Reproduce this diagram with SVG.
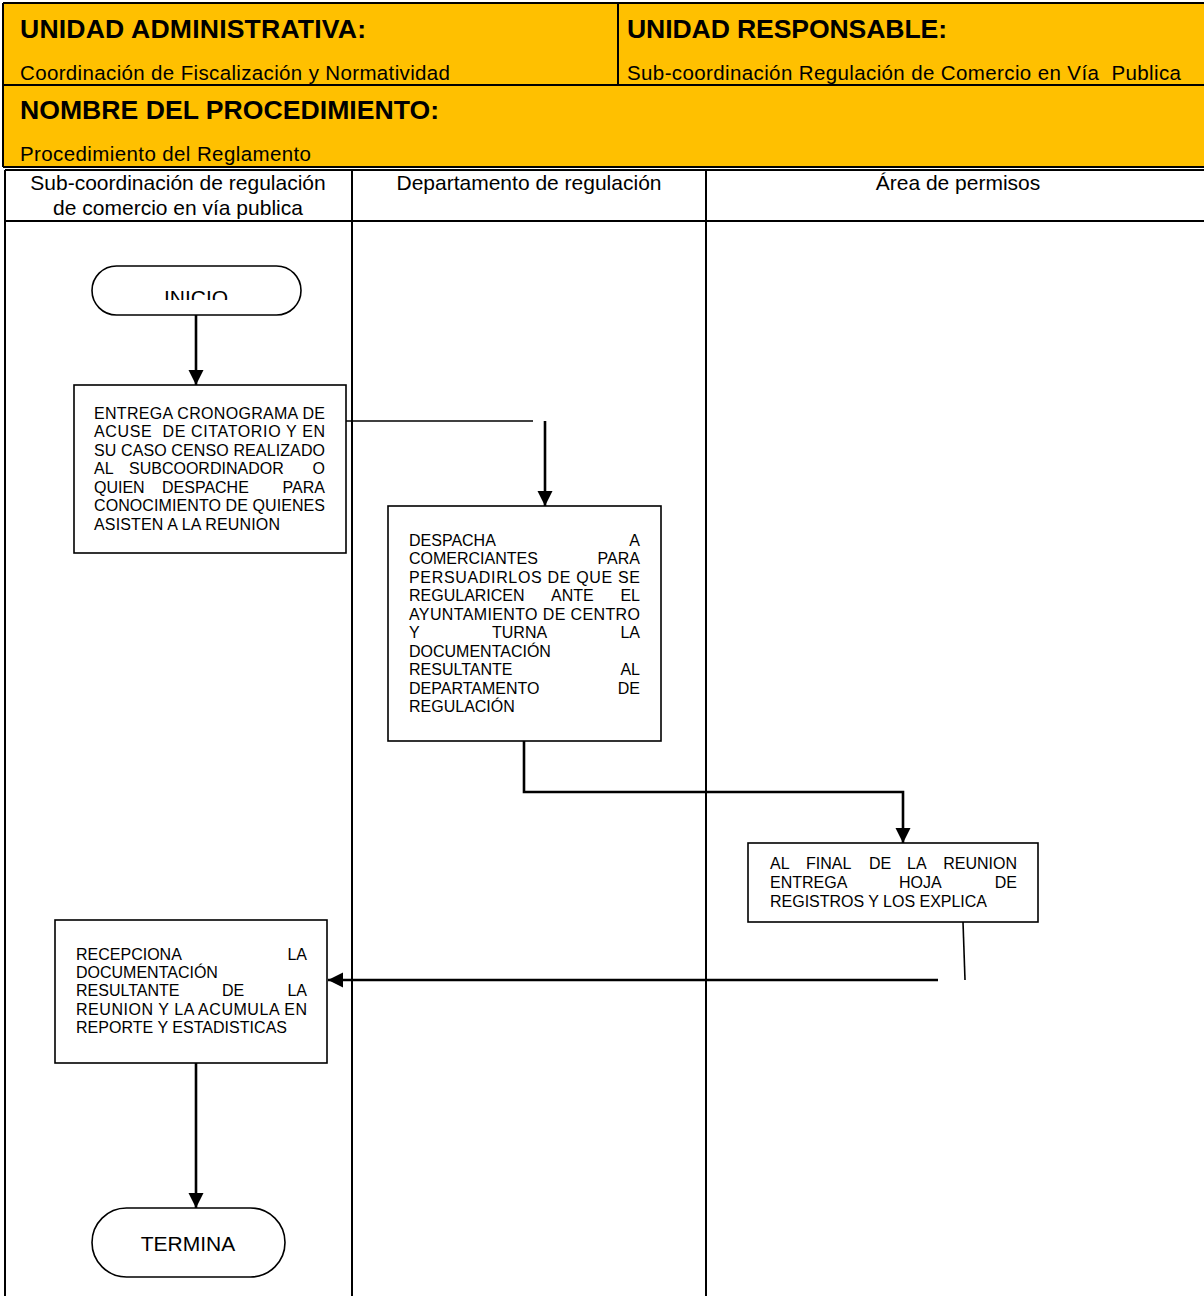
<svg xmlns="http://www.w3.org/2000/svg" width="1204" height="1296" viewBox="0 0 1204 1296">
<style>
.hdr{font-family:"Liberation Sans",Arial,sans-serif;font-weight:bold;font-size:26.6px;fill:#000}
.sub{font-family:"Liberation Sans",Arial,sans-serif;font-size:20.5px;fill:#000}
.lane{font-family:"Liberation Sans",Arial,sans-serif;font-size:21px;fill:#000;text-anchor:middle}
.t{font-family:"Liberation Sans",Arial,sans-serif;font-size:16px;fill:#000;white-space:pre}
.e{text-anchor:end}
.term{font-family:"Liberation Sans",Arial,sans-serif;font-size:21px;fill:#000;text-anchor:middle}
.box{fill:#fff;stroke:#000;stroke-width:1.6}
.grid{stroke:#000;stroke-width:2;fill:none}
.conn{stroke:#000;stroke-width:2.6;fill:none}
.thin{stroke:#000;stroke-width:1.6;fill:none}
</style>
<defs>
<marker id="arr" viewBox="0 0 10 10" refX="10" refY="5" markerUnits="userSpaceOnUse" markerWidth="15" markerHeight="16" orient="auto">
<path d="M0,0 L10,5 L0,10 z" fill="#000"/>
</marker>
<clipPath id="clipInicio"><rect x="90" y="260" width="220" height="40"/></clipPath>
</defs>
<rect width="1204" height="1296" fill="#fff"/>
<g id="header">
<rect x="3" y="3" width="1203" height="164" fill="#FFC000"/>
<path class="grid" d="M3,3 H1206 M3,3 V167 M3,85 H1206 M618,3 V85 M3,167 H1206"/>
<text class="hdr" x="20" y="38" textLength="346">UNIDAD ADMINISTRATIVA:</text>
<text class="sub" x="20" y="80" textLength="430">Coordinación de Fiscalización y Normatividad</text>
<text class="hdr" x="627" y="38" textLength="320">UNIDAD RESPONSABLE:</text>
<text class="sub" x="627" y="80" textLength="554" style="white-space:pre">Sub-coordinación Regulación de Comercio en Vía  Publica</text>
<text class="hdr" x="20" y="119" textLength="419">NOMBRE DEL PROCEDIMIENTO:</text>
<text class="sub" x="20" y="161" textLength="291">Procedimiento del Reglamento</text>
</g>
<g id="lanes">
<path class="grid" d="M5,170 H1206 M5,170 V1296 M352,170 V1296 M706,170 V1296 M5,221 H1206"/>
<text class="lane" x="178" y="190">Sub-coordinación de regulación</text>
<text class="lane" x="178" y="215">de comercio en vía publica</text>
<text class="lane" x="529" y="190">Departamento de regulación</text>
<text class="lane" x="958" y="190">Área de permisos</text>
</g>
<g id="connectors">
<path class="conn" d="M196,315 V385" marker-end="url(#arr)"/>
<path class="thin" d="M346,421 H533"/>
<path class="conn" d="M545,421 V506" marker-end="url(#arr)"/>
<path class="conn" d="M524,741 V792 H903 V843" marker-end="url(#arr)"/>
<path class="thin" d="M963,922 L965,980"/>
<path class="conn" d="M938,980 H328" marker-end="url(#arr)"/>
<path class="conn" d="M196,1063 V1208" marker-end="url(#arr)"/>
</g>
<g id="inicio">
<rect class="box" x="92" y="266" width="209" height="49" rx="24.5"/>
<text class="term" x="196" y="305" clip-path="url(#clipInicio)">INICIO</text>
</g>
<g id="entrega">
<rect class="box" x="74" y="385" width="272" height="168"/>
<text class="t" x="94" y="419" textLength="231" lengthAdjust="spacing">ENTREGA CRONOGRAMA DE</text>
<text class="t" x="94" y="437" textLength="231" lengthAdjust="spacing">ACUSE  DE CITATORIO Y EN</text>
<text class="t" x="94" y="456" textLength="231" lengthAdjust="spacing">SU CASO CENSO REALIZADO</text>
<text class="t" x="94" y="474">AL</text><text class="t" x="129" y="474">SUBCOORDINADOR</text><text class="t e" x="325" y="474">O</text>
<text class="t" x="94" y="493">QUIEN</text><text class="t" x="162" y="493">DESPACHE</text><text class="t e" x="325" y="493">PARA</text>
<text class="t" x="94" y="511" textLength="231" lengthAdjust="spacing">CONOCIMIENTO DE QUIENES</text>
<text class="t" x="94" y="530" textLength="186" lengthAdjust="spacing">ASISTEN A LA REUNION</text>
</g>
<g id="despacha">
<rect class="box" x="388" y="506" width="273" height="235"/>
<text class="t" x="409" y="546">DESPACHA</text><text class="t e" x="640" y="546">A</text>
<text class="t" x="409" y="564">COMERCIANTES</text><text class="t e" x="640" y="564">PARA</text>
<text class="t" x="409" y="583" textLength="231" lengthAdjust="spacing">PERSUADIRLOS DE QUE SE</text>
<text class="t" x="409" y="601">REGULARICEN</text><text class="t" x="551" y="601">ANTE</text><text class="t e" x="640" y="601">EL</text>
<text class="t" x="409" y="620" textLength="231" lengthAdjust="spacing">AYUNTAMIENTO DE CENTRO</text>
<text class="t" x="409" y="638">Y</text><text class="t" x="492" y="638">TURNA</text><text class="t e" x="640" y="638">LA</text>
<text class="t" x="409" y="657">DOCUMENTACIÓN</text>
<text class="t" x="409" y="675">RESULTANTE</text><text class="t e" x="640" y="675">AL</text>
<text class="t" x="409" y="694">DEPARTAMENTO</text><text class="t e" x="640" y="694">DE</text>
<text class="t" x="409" y="712">REGULACIÓN</text>
</g>
<g id="final">
<rect class="box" x="748" y="843" width="290" height="79"/>
<text class="t" x="770" y="869">AL</text><text class="t" x="806" y="869">FINAL</text><text class="t" x="869" y="869">DE</text><text class="t" x="907" y="869">LA</text><text class="t e" x="1017" y="869">REUNION</text>
<text class="t" x="770" y="888">ENTREGA</text><text class="t" x="899" y="888">HOJA</text><text class="t e" x="1017" y="888">DE</text>
<text class="t" x="770" y="907" textLength="217" lengthAdjust="spacing">REGISTROS Y LOS EXPLICA</text>
</g>
<g id="recepciona">
<rect class="box" x="55" y="920" width="272" height="143"/>
<text class="t" x="76" y="960">RECEPCIONA</text><text class="t e" x="307" y="960">LA</text>
<text class="t" x="76" y="978">DOCUMENTACIÓN</text>
<text class="t" x="76" y="996">RESULTANTE</text><text class="t" x="222" y="996">DE</text><text class="t e" x="307" y="996">LA</text>
<text class="t" x="76" y="1015" textLength="231" lengthAdjust="spacing">REUNION Y LA ACUMULA EN</text>
<text class="t" x="76" y="1033" textLength="211" lengthAdjust="spacing">REPORTE Y ESTADISTICAS</text>
</g>
<g id="termina">
<rect class="box" x="92" y="1208" width="193" height="69" rx="34.5"/>
<text class="term" x="188" y="1251">TERMINA</text>
</g>
</svg>
